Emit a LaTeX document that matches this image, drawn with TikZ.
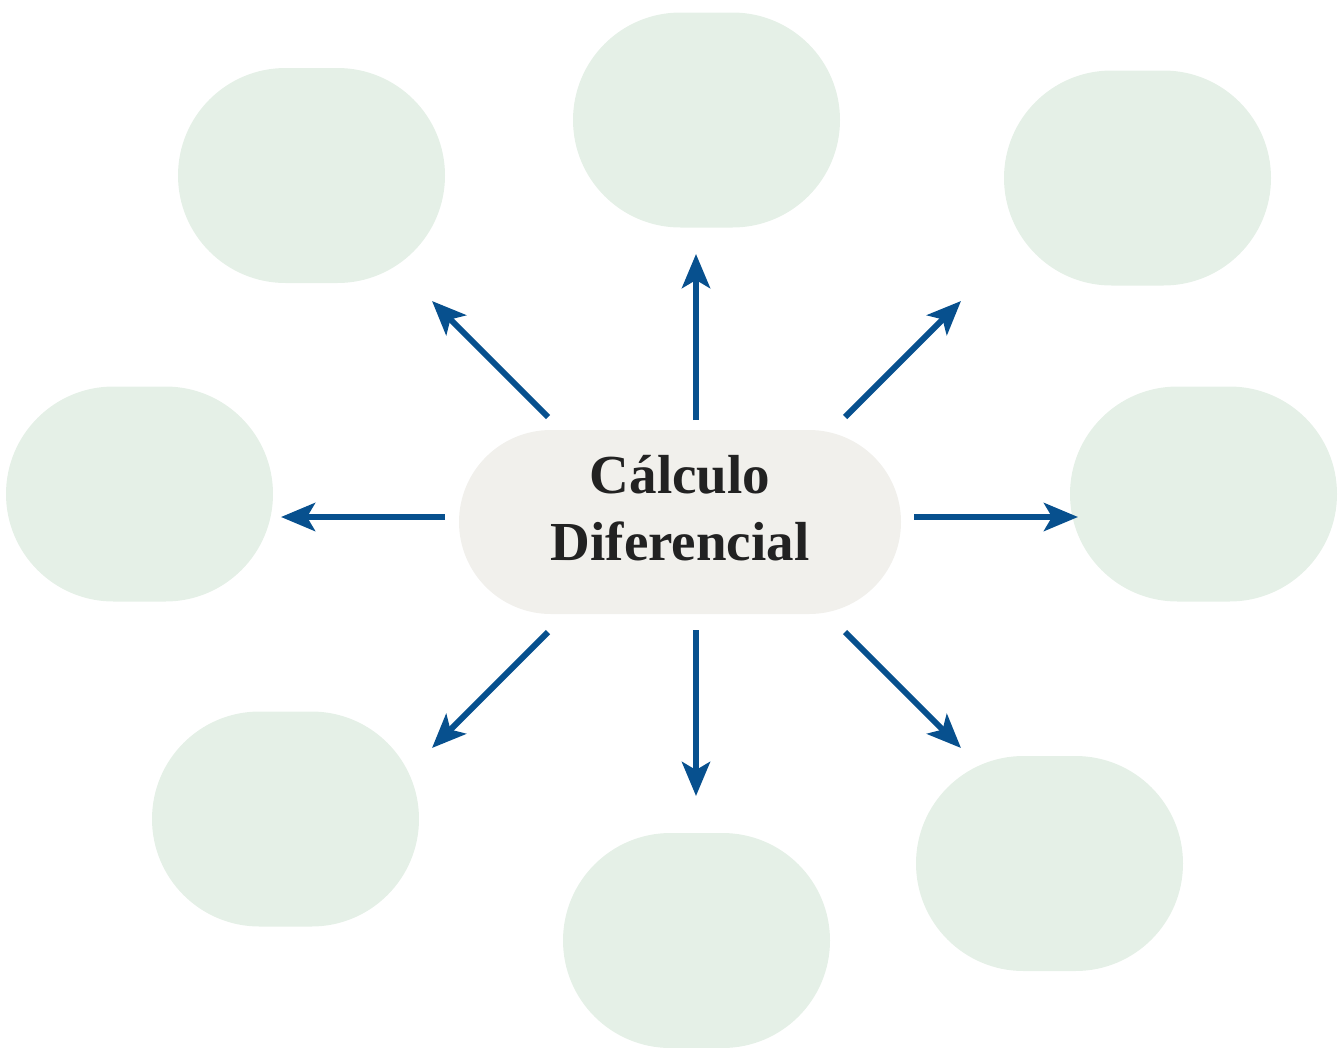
\documentclass[tikz,border=0pt]{standalone}
\usepackage{fontspec}
\setmainfont{Liberation Serif}
\usetikzlibrary{arrows.meta,shapes.misc}
\definecolor{boxgreen}{HTML}{E5F0E7}
\definecolor{centerfill}{HTML}{F1F0EC}
\definecolor{arrowblue}{HTML}{07508E}
\definecolor{textdark}{HTML}{222222}
\begin{document}
\begin{tikzpicture}[x=1pt,y=-1pt,
  leaf/.style={rounded rectangle, fill=boxgreen, minimum width=267pt, minimum height=215pt, inner sep=0pt},
  hub/.style={rounded rectangle, fill=centerfill, minimum width=442pt, minimum height=184pt, inner sep=0pt},
  spoke/.style={draw=arrowblue, line width=6pt, -{Stealth[length=34pt,width=28pt,inset=8pt]}}]
\useasboundingbox (0,0) rectangle (1341,1047);
% leaf boxes
\node[leaf] (top) at (706.5,120) {};
\node[leaf] (topleft) at (311.5,175.5) {};
\node[leaf] (topright) at (1137.5,178) {};
\node[leaf] (left) at (139.5,494) {};
\node[leaf] (right) at (1203.5,494) {};
\node[leaf] (botleft) at (285.5,819) {};
\node[leaf] (bottom) at (696.5,940.5) {};
\node[leaf] (botright) at (1049.5,863.5) {};
% hub
\node[hub] (hub) at (680,522) {};
\node[font=\bfseries\fontsize{55}{67}\selectfont, text=textdark, align=center, inner sep=0pt] (title) at (680,508) {Cálculo\\Diferencial};
% spoke endpoints
\coordinate (sU) at (696,420);  \coordinate (eU) at (696,254);
\coordinate (sD) at (696,630);  \coordinate (eD) at (696,796);
\coordinate (sL) at (445,517);  \coordinate (eL) at (281,517);
\coordinate (sR) at (914,517);  \coordinate (eR) at (1078,517);
\coordinate (sUL) at (548,417); \coordinate (eUL) at (432,301);
\coordinate (sUR) at (845,417); \coordinate (eUR) at (961,301);
\coordinate (sDL) at (548,632); \coordinate (eDL) at (432,748);
\coordinate (sDR) at (845,632); \coordinate (eDR) at (961,748);
\draw[spoke] (sU) -- (eU);
\draw[spoke] (sD) -- (eD);
\draw[spoke] (sL) -- (eL);
\draw[spoke] (sR) -- (eR);
\draw[spoke] (sUL) -- (eUL);
\draw[spoke] (sUR) -- (eUR);
\draw[spoke] (sDL) -- (eDL);
\draw[spoke] (sDR) -- (eDR);
\end{tikzpicture}
\end{document}
